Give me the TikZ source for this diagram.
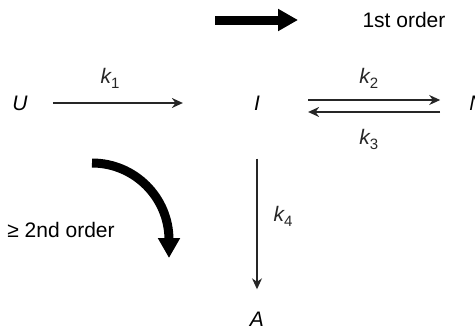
\documentclass[tikz,border=0pt]{standalone}
\usepackage{fontspec}
\setmainfont{Liberation Sans}
\usetikzlibrary{arrows.meta}

\newcommand{\rsub}[1]{\raisebox{-5pt}{\fontsize{15}{16}\selectfont\upshape #1}}

\begin{document}
\begin{tikzpicture}[x=1pt, y=-1pt, every node/.style={font=\fontsize{21}{24}\selectfont, inner sep=3pt},
  species/.style={text height=15pt, text depth=0pt, font=\fontsize{21}{24}\selectfont\itshape},
  rate/.style={font=\fontsize{21}{24}\selectfont\itshape},
  rxn/.style={-{Stealth[length=11pt,width=10pt]}, line width=1.4pt, black!85},
  bigarrow/.style={line width=9pt, -{Triangle[length=20pt,width=21pt]}}]
  \useasboundingbox (0,0) rectangle (475,332);
  % Legend: first order step
  \coordinate (leg1) at (215,20);
  \coordinate (leg2) at (298,20);
  \draw[bigarrow] (leg1) -- (leg2);
  \node (first) at (404,20) {1st order};
  % Species
  \node[species] (U) at (20,103) {U};
  \node[species] (I) at (257,103) {I};
  \node[species] (N) at (477,103) {N};
  \node[species] (A) at (257,319) {A};
  % Reactions
  \draw[rxn, shorten <=22pt, shorten >=68pt] (U) -- (I) node[rate, pos=0.36, above=11pt] {k\rsub{1}};
  \draw[rxn, shorten <=45pt, shorten >=26pt] ([yshift=3pt]I.east) -- ([yshift=3pt]N.west) node[rate, pos=0.52, above=8pt] {k\rsub{2}};
  \draw[rxn, shorten <=26pt, shorten >=45pt] ([yshift=-9pt]N.west) -- ([yshift=-9pt]I.east) node[rate, pos=0.48, below=14pt] {k\rsub{3}};
  \draw[rxn, shorten <=45pt, shorten >=19pt] (I) -- (A) node[rate, pos=0.53, right=13pt] {k\rsub{4}};
  % Higher order step
  \coordinate (bend) at (92,163);
  \draw[bigarrow] (bend) arc[start angle=-90, end angle=0, radius=77] -- ++(0,18);
  \node (second) at (61,230) {≥ 2nd order};
\end{tikzpicture}
\end{document}
